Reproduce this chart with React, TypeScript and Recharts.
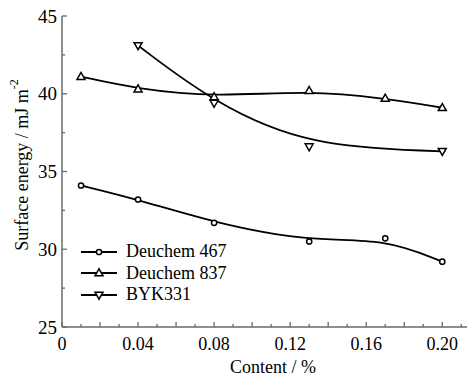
import React from 'react';
import { LineChart, Line, XAxis, YAxis, Legend } from 'recharts';

const contents = [0.01, 0.04, 0.08, 0.13, 0.17, 0.2];
const deuchem467 = [34.1, 33.2, 31.7, 30.5, 30.7, 29.2];
const deuchem837 = [41.1, 40.3, 39.8, 40.2, 39.7, 39.1];
const byk331 = [null, 43.1, 39.4, 36.6, null, 36.3];

const xTicks = [0, 0.01, 0.02, 0.03, 0.04, 0.05, 0.06, 0.07, 0.08, 0.09, 0.1, 0.11, 0.12, 0.13, 0.14, 0.15, 0.16, 0.17, 0.18, 0.19, 0.2, 0.21];
const xLabels = ['0', '0.04', '0.08', '0.12', '0.16', '0.20'];
const yTicks = [25, 27.5, 30, 32.5, 35, 37.5, 40, 42.5, 45];

const seriesNames = ['Deuchem 467', 'Deuchem 837', 'BYK331'];

const data = contents.map((c, i) => ({
  x: c,
  d467: deuchem467[i],
  d837: deuchem837[i],
  byk: byk331[i],
}));

const FONT = '"Liberation Serif", "Times New Roman", serif';
const AXIS = '#6a6a6a';

type Shape = 'circle' | 'up' | 'down';

const Marker = ({ cx, cy, shape }: { cx: number; cy: number; shape: Shape }) => {
  if (shape === 'circle') {
    return <circle cx={cx} cy={cy} r={2.6} fill="#fff" stroke="#000" strokeWidth={1.5} />;
  }
  const w = 4;
  const h = 7;
  const pts =
    shape === 'up'
      ? `${cx},${cy - h * 0.6} ${cx - w},${cy + h * 0.4} ${cx + w},${cy + h * 0.4}`
      : `${cx},${cy + h * 0.6} ${cx - w},${cy - h * 0.4} ${cx + w},${cy - h * 0.4}`;
  return <polygon points={pts} fill="#fff" stroke="#000" strokeWidth={1.5} strokeLinejoin="miter" />;
};

const makeDot = (shape: Shape) => (props: any) => {
  const { cx, cy, value, index } = props;
  if (cx == null || cy == null || value == null || (Array.isArray(value) && value[1] == null)) {
    return <g key={`e-${shape}-${index}`} />;
  }
  return (
    <g key={`d-${shape}-${index}`}>
      <Marker cx={cx} cy={cy} shape={shape} />
    </g>
  );
};

const XTick = (props: any) => {
  const { x, y, payload } = props;
  const v = Math.round(payload.value * 100);
  const major = v % 2 === 0;
  const labeled = v % 4 === 0;
  const idx = v / 4;
  return (
    <g>
      <line x1={x} x2={x} y1={y} y2={y - (major ? 5 : 3)} stroke={AXIS} strokeWidth={1.3} />
      {labeled && (
        <text x={x} y={y + 23} textAnchor="middle" fontFamily={FONT} fontSize={18} fill="#000">
          {xLabels[idx]}
        </text>
      )}
    </g>
  );
};

const YTick = (props: any) => {
  const { x, y, payload } = props;
  const v = payload.value;
  const major = v % 5 === 0;
  return (
    <g>
      <line x1={x} x2={x + (major ? 5 : 3)} y1={y} y2={y} stroke={AXIS} strokeWidth={1.3} />
      {major && (
        <text x={x - 5} y={y} dy="0.35em" textAnchor="end" fontFamily={FONT} fontSize={19} fill="#000">
          {v}
        </text>
      )}
    </g>
  );
};

const LegendContent = () => {
  const shapes: Shape[] = ['circle', 'up', 'down'];
  return (
    <div style={{ fontFamily: FONT, fontSize: 18, color: '#000' }}>
      {seriesNames.map((n, i) => (
        <div key={n} style={{ display: 'flex', alignItems: 'center', height: 21.5 }}>
          <svg width={40} height={20} style={{ display: 'block' }}>
            <line x1={2} x2={38} y1={10} y2={10} stroke="#000" strokeWidth={1.8} />
            <Marker cx={20} cy={10} shape={shapes[i]} />
          </svg>
          <span style={{ marginLeft: 7, lineHeight: '21px' }}>{n}</span>
        </div>
      ))}
    </div>
  );
};

const YLabel = () => (
  <text
    x={22}
    y={165}
    transform="rotate(-90, 22, 165)"
    textAnchor="middle"
    dominantBaseline="central"
    fontFamily={FONT}
    fontSize={18}
    fill="#000"
  >
    Surface energy / mJ m<tspan fontSize={12} dy={-8}>-2</tspan>
  </text>
);

export default function App() {
  return (
    <div style={{ position: 'absolute', left: 0, top: 0, width: 468, height: 378, background: '#fff' }}>
      <LineChart
        width={468}
        height={378}
        data={data}
        margin={{ top: 16, right: 1, bottom: 0, left: 0 }}
      >
        <XAxis
          dataKey="x"
          type="number"
          domain={[0, 0.213]}
          ticks={xTicks}
          interval={0}
          height={51}
          tick={<XTick />}
          tickLine={false}
          tickSize={0}
          tickMargin={0}
          axisLine={{ stroke: AXIS, strokeWidth: 1.5 }}
          allowDataOverflow
          label={{
            value: 'Content / %',
            position: 'insideBottom',
            offset: 0,
            content: () => (
              <text x={273} y={373} textAnchor="middle" fontFamily={FONT} fontSize={18} fill="#000">
                Content / %
              </text>
            ),
          }}
        />
        <YAxis
          type="number"
          domain={[25, 45]}
          ticks={yTicks}
          interval={0}
          width={62}
          tick={<YTick />}
          tickLine={false}
          tickSize={0}
          tickMargin={0}
          axisLine={{ stroke: AXIS, strokeWidth: 1.5 }}
          label={{ value: 'Surface energy', content: () => <YLabel /> }}
        />
        <Legend
          layout="vertical"
          align="center"
          verticalAlign="middle"
          content={<LegendContent />}
          wrapperStyle={{ left: 79, top: 241, width: 'auto', height: 'auto' }}
        />
        <Line
          type="basis"
          dataKey="d467"
          name={seriesNames[0]}
          stroke="#000"
          strokeWidth={1.8}
          dot={makeDot('circle')}
          activeDot={false}
          isAnimationActive={false}
        />
        <Line
          type="basis"
          dataKey="d837"
          name={seriesNames[1]}
          stroke="#000"
          strokeWidth={1.8}
          dot={makeDot('up')}
          activeDot={false}
          isAnimationActive={false}
        />
        <Line
          type="basis"
          dataKey="byk"
          name={seriesNames[2]}
          stroke="#000"
          strokeWidth={1.8}
          dot={makeDot('down')}
          activeDot={false}
          connectNulls
          isAnimationActive={false}
        />
      </LineChart>
    </div>
  );
}
